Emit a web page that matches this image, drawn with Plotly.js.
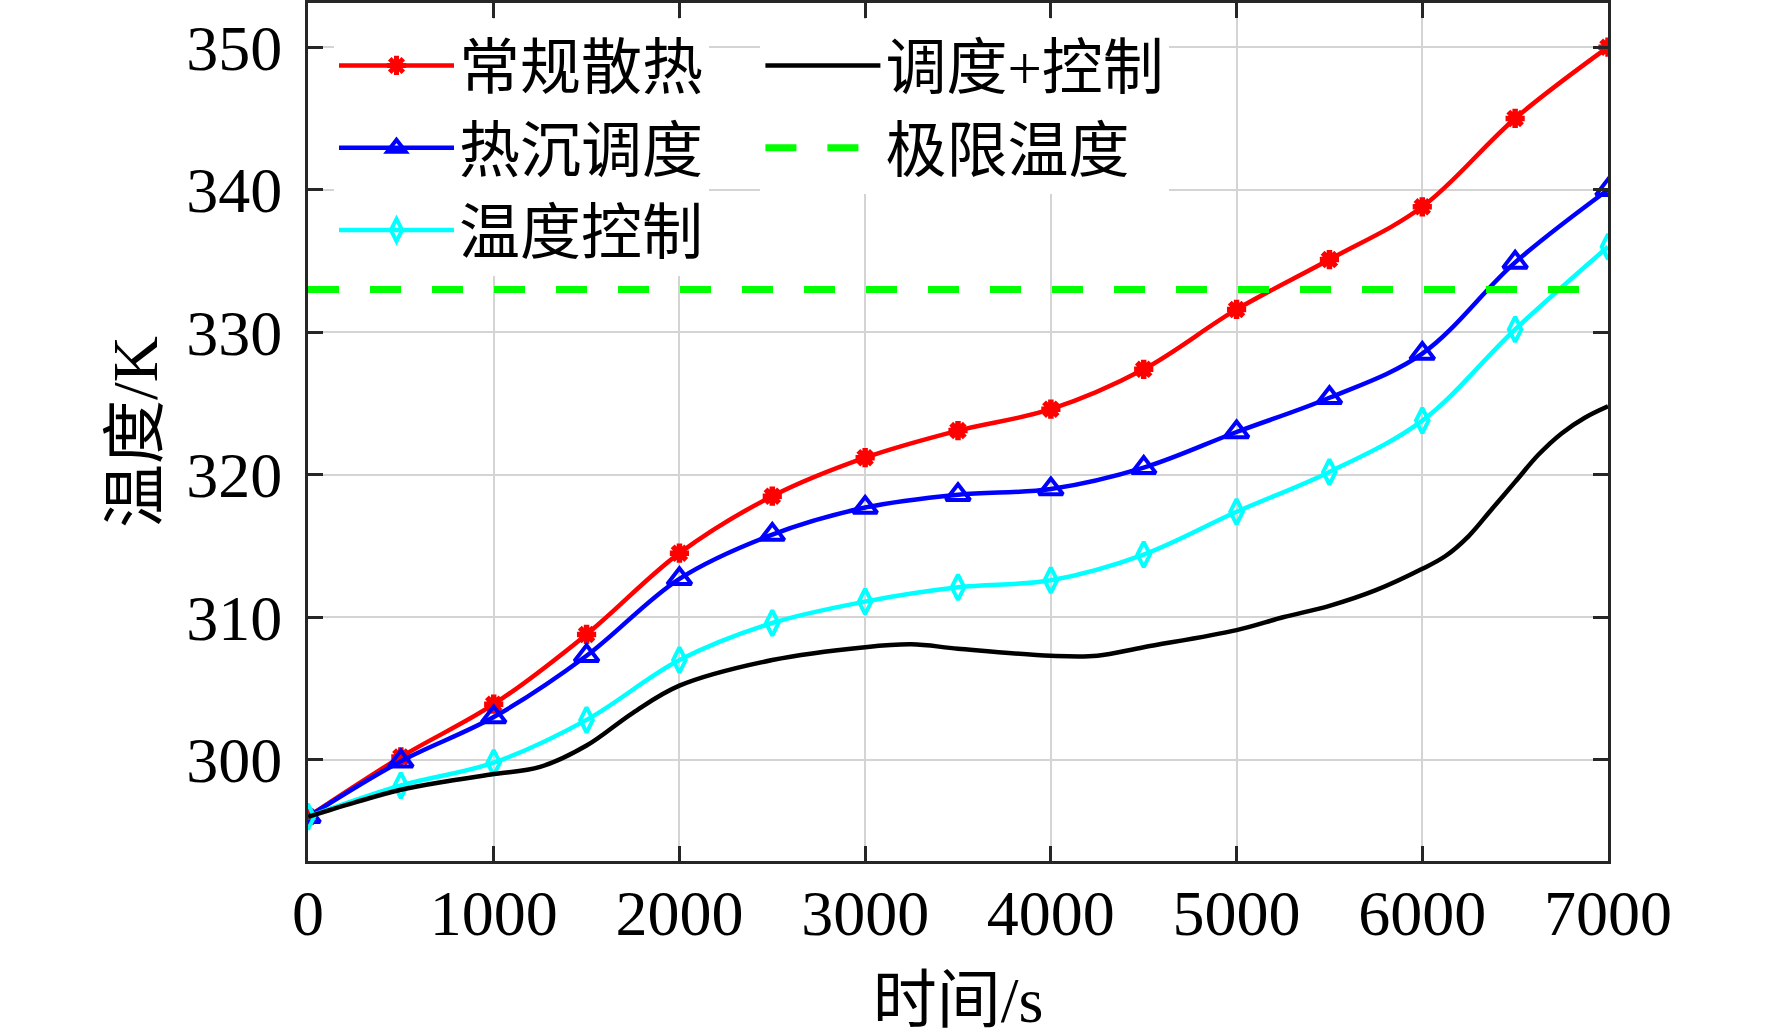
<!DOCTYPE html>
<html>
<head>
<meta charset="utf-8">
<script src="https://cdn.plot.ly/plotly-3.0.1.min.js"></script>
<style>
body{margin:0;background:#fff;}
#chart{width:1772px;height:1036px;}
</style>
</head>
<body>
<div id="chart"></div>
<script>
// time axis for the marked series (s)
var timeMarked = [0,500,1000,1500,2000,2500,3000,3500,4000,4500,5000,5500,6000,6500,7000];
var tempNormal = [296,300.2,303.9,308.8,314.5,318.5,321.2,323.1,324.6,327.4,331.6,335.1,338.8,345.0,350.0];
var tempSink   = [296,299.9,303.0,307.3,312.7,315.8,317.7,318.6,319.0,320.5,323.0,325.4,328.5,334.9,340.0];
var tempCtrl   = [296,298.2,299.8,302.8,307.0,309.6,311.1,312.1,312.6,314.4,317.4,320.2,323.8,330.2,336.0];

// black curve has no markers, read at finer steps
var timeBoth = [0,250,500,750,1000,1250,1500,1750,2000,2500,3000,3250,3500,4000,4250,4500,5000,5250,5500,5750,6000,6125,6250,6375,6500,6625,6750,6875,7000];
var tempBoth = [296,297.0,297.9,298.5,299.0,299.5,301.0,303.3,305.2,307.0,307.9,308.1,307.8,307.3,307.3,307.9,309.1,310.0,310.8,311.9,313.4,314.3,315.7,317.6,319.5,321.4,322.9,324.0,324.8];

var limitTime = [0,7000];
var limitTemp = [333,333];

var names = ['常规散热','热沉调度','温度控制','调度+控制','极限温度'];

var serif = '"Liberation Serif","Times New Roman","Noto Sans CJK SC",serif';
var legendFont = {family:serif,size:61,color:'#000'};

var traces = [
  {x:timeMarked,y:tempNormal,name:names[0],legend:'legend',mode:'lines+markers',
   line:{color:'#ff0000',width:4.5,shape:'spline',smoothing:1},
   marker:{symbol:'asterisk-open',size:16,color:'#ff0000',line:{color:'#ff0000',width:5.5}}},
  {x:timeMarked,y:tempSink,name:names[1],legend:'legend',mode:'lines+markers',
   line:{color:'#0000ff',width:4.5,shape:'spline',smoothing:1},
   marker:{symbol:'triangle-up-open',size:21,color:'#0000ff',line:{color:'#0000ff',width:4}}},
  {x:timeMarked,y:tempCtrl,name:names[2],legend:'legend',mode:'lines+markers',
   line:{color:'#00ffff',width:4.5,shape:'spline',smoothing:1},
   marker:{symbol:'diamond-tall-open',size:18,color:'#00ffff',line:{color:'#00ffff',width:4}}},
  {x:timeBoth,y:tempBoth,name:names[3],legend:'legend2',mode:'lines',
   line:{color:'#000000',width:4.5,shape:'spline',smoothing:1}},
  {x:limitTime,y:limitTemp,name:names[4],legend:'legend2',mode:'lines',
   line:{color:'#00ff00',width:7,dash:'31px,31px'}}
];

var axisCommon = {
  showline:true, linecolor:'#262626', linewidth:3, mirror:'ticks',
  ticks:'inside', ticklen:15, tickwidth:3, tickcolor:'#262626',
  showgrid:true, gridcolor:'#d4d4d4', gridwidth:2, zeroline:false,
  tickfont:{family:serif,size:64,color:'#000'}
};

var layout = {
  width:1772, height:1036,
  margin:{l:308,r:164,t:3,b:175},
  paper_bgcolor:'#fff', plot_bgcolor:'#fff',
  font:{family:serif,color:'#000'},
  showlegend:true,
  legend:{orientation:'v',x:0.02,y:0.981,xanchor:'left',yanchor:'top',
    bgcolor:'#fff',borderwidth:0,itemwidth:115,traceorder:'normal',font:legendFont},
  legend2:{orientation:'v',x:0.348,y:0.981,xanchor:'left',yanchor:'top',
    bgcolor:'#fff',borderwidth:0,itemwidth:115,traceorder:'normal',font:legendFont},
  xaxis:Object.assign({},axisCommon,{range:[0,7000],dtick:1000,tick0:0,
    ticklabelstandoff:-6,
    title:{text:'时间/s',font:{family:serif,size:64,color:'#000'},standoff:48}}),
  yaxis:Object.assign({},axisCommon,{range:[292.9,353.1],dtick:10,tick0:300,
    ticklabelstandoff:10,
    title:{text:'温度/K',font:{family:serif,size:64,color:'#000'},standoff:8}})
};

Plotly.newPlot('chart',traces,layout,{displayModeBar:false,staticPlot:true});
</script>
</body>
</html>
